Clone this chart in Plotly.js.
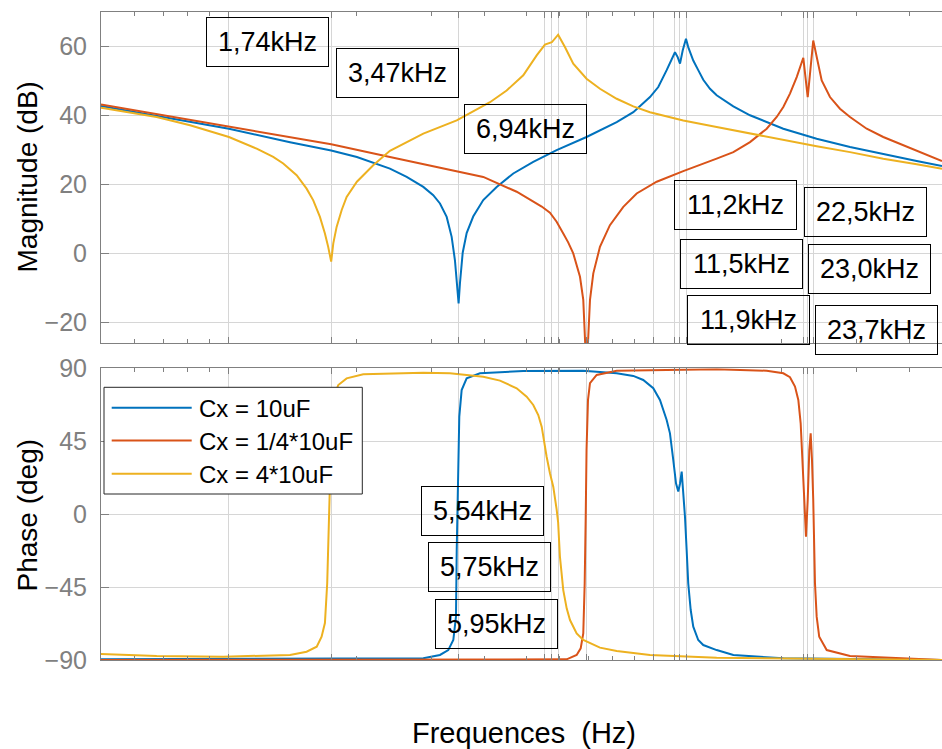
<!DOCTYPE html>
<html>
<head>
<meta charset="utf-8">
<script src="https://cdn.plot.ly/plotly-3.0.1.min.js"></script>
<style>
  html, body { margin: 0; padding: 0; background: #fff; }
  #chart { width: 942px; height: 749px; }
</style>
</head>
<body>
<div id="chart"></div>
<script>
// ---------------- DATA ----------------
const seriesNames = ['Cx = 10uF', 'Cx = 1/4*10uF', 'Cx = 4*10uF'];

// Magnitude (dB) vs frequency (Hz)
const blueMagF  = [500, 676, 1000, 1392, 1740, 2000, 2185, 2392, 2619, 2866, 3025, 3137, 3253, 3342, 3402, 3445, 3470, 3496, 3548, 3625, 3756, 3966, 4265, 4667, 5200, 5902, 6940, 8172, 8941, 9786, 10236, 10712, 11006, 11206, 11371, 11516, 11684, 11894, 12040, 12373, 12711, 13062, 13546, 14045, 15373, 16826, 20152, 24145, 28925, 34637, 41510, 47610];
const blueMagDb = [42.8, 39.9, 36.2, 32.3, 29.9, 28.0, 26.4, 24.6, 22.2, 19.3, 16.9, 14.5, 10.6, 4.8, -2.0, -9.8, -14.5, -8.6, 0.2, 5.9, 10.7, 15.5, 19.3, 23.2, 26.6, 30.0, 33.8, 38.1, 41.0, 45.4, 48.3, 53.2, 56.5, 58.4, 57.0, 55.1, 58.9, 62.3, 59.9, 56.0, 53.2, 50.4, 47.8, 45.9, 42.7, 40.1, 36.2, 33.3, 30.9, 28.8, 26.8, 25.4];

const redMagF  = [500, 1000, 1740, 2392, 2866, 3311, 3966, 4753, 5200, 5443, 5692, 5902, 6118, 6283, 6458, 6698, 6818, 6940, 7071, 7199, 7463, 7877, 8470, 9106, 10150, 11720, 14045, 15373, 16826, 18418, 19443, 20152, 20893, 21670, 22458, 23000, 23700, 24145, 24810, 25950, 27390, 28925, 31660, 34637, 41510, 47610];
const redMagDb = [43.2, 36.9, 31.7, 28.0, 26.0, 24.4, 22.2, 17.9, 15.0, 13.6, 11.8, 9.2, 5.8, 3.2, 0.0, -6.8, -13.5, -35, -13.5, -5.8, 1.9, 8.2, 13.5, 17.4, 20.8, 23.9, 27.5, 29.4, 32.3, 36.2, 39.6, 42.5, 46.4, 51.2, 56.8, 45.4, 61.8, 57.0, 50.2, 45.4, 42.0, 39.6, 36.2, 33.8, 29.9, 26.8];

const yellowMagF  = [500, 676, 810, 1000, 1162, 1271, 1342, 1443, 1523, 1579, 1637, 1682, 1712, 1740, 1760, 1792, 1842, 1892, 2000, 2185, 2392, 2866, 3435, 4113, 4502, 4926, 5297, 5540, 5750, 5950, 6173, 6458, 6940, 7463, 8172, 8941, 9786, 11720, 14045, 16826, 20152, 24145, 28925, 34637, 41510, 47610];
const yellowMagDb = [42.3, 39.6, 37.2, 33.8, 30.4, 28.0, 26.1, 22.7, 18.8, 15.4, 10.6, 5.8, 1.9, -2.4, 2.9, 7.7, 12.6, 16.4, 20.8, 25.6, 29.8, 34.8, 38.6, 43.9, 47.3, 51.7, 57.5, 60.6, 61.3, 63.5, 59.9, 55.1, 50.7, 47.8, 44.9, 42.7, 41.0, 38.6, 36.7, 34.8, 32.8, 31.1, 29.4, 27.5, 25.9, 24.6];

// Phase (deg) vs frequency (Hz)
const bluePhF   = [500, 2866, 3137, 3281, 3372, 3421, 3435, 3452, 3483, 3528, 3625, 3896, 4926, 6818, 8172, 8941, 9436, 9963, 10330, 10712, 10905, 11102, 11268, 11408, 11516, 11620, 11720, 11830, 11937, 12040, 12202, 12373, 12711, 13062, 14045, 15373, 20152, 47610];
const bluePhDeg = [-89.4, -88.8, -86.7, -83.7, -77.5, -63.1, -22, 19.1, 60.2, 76.6, 83.8, 86.9, 88.3, 88.5, 86.9, 85.3, 82.8, 77.7, 70.5, 58.1, 49.9, 33.5, 19.1, 14, 19, 26.3, 15, -1.5, -22, -42.5, -59, -69.3, -77.5, -80.6, -83.7, -86.7, -88.8, -89.8];

const redPhF   = [500, 6232, 6578, 6723, 6818, 6871, 6909, 6940, 6995, 7071, 7331, 8172, 14045, 18418, 20152, 20893, 21470, 21860, 22140, 22390, 22580, 22787, 23000, 23200, 23374, 23540, 23700, 23924, 24145, 24480, 25494, 28925, 47610];
const redPhDeg = [-89.8, -89.4, -86.7, -82.6, -73.4, -42.5, -1.5, 39.6, 70.5, 80.8, 85.9, 88.5, 89.4, 88.5, 86.9, 84.5, 78.7, 70.5, 56.1, 33.5, 8.8, -13.8, 8.8, 39.6, 49.9, 33.5, 8.8, -42.5, -63.1, -75.5, -83.7, -87.4, -89.8];

const yellowPhF   = [500, 676, 970, 1392, 1523, 1609, 1652, 1682, 1703, 1717, 1728, 1744, 1766, 1808, 1892, 2070, 2866, 3311, 3966, 4342, 4753, 5018, 5200, 5343, 5443, 5519, 5591, 5692, 5795, 5902, 5950, 6008, 6118, 6232, 6345, 6578, 6818, 7463, 8172, 9786, 14045, 47610];
const yellowPhDeg = [-86.1, -87.4, -87.8, -86.7, -84.7, -81.6, -75.5, -67, -42.5, -11.7, 19, 56.1, 72.5, 79.7, 83.8, 86.3, 87.3, 86.9, 84.8, 82.4, 77.7, 72.5, 67.4, 61.2, 54, 43.8, 35.5, 25.3, 17, 3, -5, -26, -46.7, -58, -65.2, -73.4, -77.5, -82.2, -84.3, -86.7, -88.4, -89.8];

// x grid / tick frequencies (Hz), minor log ticks
const freqTicks  = [1000, 1740, 3470, 5540, 5750, 5950, 6940, 10000, 11200, 11500, 11900, 22500, 23000, 23700];
const minorTicks = [600, 700, 800, 900, 2000, 3000, 4000, 5000, 6000, 7000, 8000, 9000, 20000, 30000, 40000];
const magTicks   = [-20, 0, 20, 40, 60];
const phaseTicks = [-90, -45, 0, 45, 90];

// data-tip labels
const magLabelFreqs   = [1740, 3470, 6940, 11200, 11500, 11900, 22500, 23000, 23700];
const magLabelTexts   = ['1,74kHz', '3,47kHz', '6,94kHz', '11,2kHz', '11,5kHz', '11,9kHz', '22,5kHz', '23,0kHz', '23,7kHz'];
const phaseLabelFreqs = [5540, 5750, 5950];
const phaseLabelTexts = ['5,54kHz', '5,75kHz', '5,95kHz'];

// ---------------- STYLE / LAYOUT ----------------
const W = 942, H = 749;
const px = x => x / W;
const py = y => (H - y) / H;
const colors = ['#0072BD', '#D95319', '#EDB120'];
const FONT = '"Liberation Sans", Arial, Helvetica, sans-serif';
const GRAY = '#808080';

function line(x, y, i, xa, ya) {
  return { x: x, y: y, xaxis: xa, yaxis: ya, type: 'scatter', mode: 'lines',
           name: seriesNames[i], showlegend: false, hoverinfo: 'skip',
           line: { color: colors[i], width: 2 } };
}

const traces = [
  line(blueMagF, blueMagDb, 0, 'x', 'y'),
  line(redMagF, redMagDb, 1, 'x', 'y'),
  line(yellowMagF, yellowMagDb, 2, 'x', 'y'),
  line(bluePhF, bluePhDeg, 0, 'x2', 'y2'),
  line(redPhF, redPhDeg, 1, 'x2', 'y2'),
  line(yellowPhF, yellowPhDeg, 2, 'x2', 'y2')
];

const xDomain = [px(101), 1];
const xRange = [Math.log10(500), Math.log10(47610)];

function xaxisDef(anchor) {
  return {
    type: 'log', domain: xDomain, range: xRange, anchor: anchor,
    tickmode: 'array', tickvals: freqTicks, showticklabels: false,
    ticks: 'inside', ticklen: 6, tickwidth: 1, tickcolor: GRAY,
    showgrid: true, gridcolor: '#d6d6d6', gridwidth: 1,
    showline: true, linecolor: GRAY, linewidth: 1, mirror: 'ticks',
    zeroline: false, automargin: false,
    minor: { tickmode: 'array', tickvals: minorTicks, ticks: 'inside', ticklen: 4,
             tickwidth: 1, tickcolor: GRAY, showgrid: false }
  };
}
function yaxisDef(domain, range, tickvals, anchor) {
  return {
    domain: domain, range: range, anchor: anchor,
    tickmode: 'array', tickvals: tickvals,
    ticks: 'inside', ticklen: 8, tickwidth: 1, tickcolor: GRAY,
    tickfont: { family: FONT, size: 25, color: GRAY },
    ticklabelstandoff: 8,
    showgrid: true, gridcolor: '#d6d6d6', gridwidth: 1,
    showline: true, linecolor: GRAY, linewidth: 1, mirror: false,
    zeroline: false, automargin: false
  };
}

const annotations = [];
function tipBox(f, text, xref, yc, anchor, shift) {
  annotations.push({
    xref: xref, yref: 'paper', x: Math.log10(f), y: py(yc),
    xanchor: anchor, yanchor: 'middle', xshift: shift, showarrow: false,
    text: text, font: { family: FONT, size: 27, color: '#000' },
    bordercolor: '#000', borderwidth: 1, borderpad: 0, width: 121, height: 48,
    bgcolor: 'rgba(0,0,0,0)'
  });
}
const magLabelY      = [42, 73.3, 129.3, 205.5, 264, 320, 212.2, 269.2, 330.4];
const magLabelAnchor = ['right', 'right', 'right', 'left', 'left', 'left', 'left', 'left', 'left'];
const magLabelShift  = [-2, 0, 0, -1, 0, 0.5, 0, 0, 2];
magLabelFreqs.forEach((f, i) => tipBox(f, magLabelTexts[i], 'x', magLabelY[i], magLabelAnchor[i], magLabelShift[i]));
const phaseLabelY = [511.3, 567.2, 624.2];
phaseLabelFreqs.forEach((f, i) => tipBox(f, phaseLabelTexts[i], 'x2', phaseLabelY[i], 'right', -0.5));

// axis titles
annotations.push({ xref: 'paper', yref: 'paper', x: px(524), y: py(733), xanchor: 'center', yanchor: 'middle',
  showarrow: false, text: 'Frequences \u00a0(Hz)', font: { family: FONT, size: 29, color: '#000' } });
annotations.push({ xref: 'paper', yref: 'paper', x: px(27), y: py(177.5), xanchor: 'center', yanchor: 'middle',
  showarrow: false, textangle: -90, text: 'Magnitude (dB)', font: { family: FONT, size: 28, color: '#000' } });
annotations.push({ xref: 'paper', yref: 'paper', x: px(27), y: py(515.5), xanchor: 'center', yanchor: 'middle',
  showarrow: false, textangle: -90, text: 'Phase (deg)', font: { family: FONT, size: 28, color: '#000' } });

// legend (drawn manually to match the long line samples)
const shapes = [{
  type: 'rect', xref: 'paper', yref: 'paper', x0: px(104), x1: px(362.3), y0: py(494), y1: py(387.3),
  fillcolor: '#fff', line: { color: '#262626', width: 1 }, layer: 'above'
}];
const legendRowY = [407.8, 440.5, 473.8];
seriesNames.forEach((name, i) => {
  shapes.push({ type: 'line', xref: 'paper', yref: 'paper', x0: px(111.7), x1: px(191.7),
    y0: py(legendRowY[i]), y1: py(legendRowY[i]), line: { color: colors[i], width: 2 }, layer: 'above' });
  annotations.push({ xref: 'paper', yref: 'paper', x: px(197), y: py(legendRowY[i] + 1), xanchor: 'left',
    yanchor: 'middle', showarrow: false, text: name, font: { family: FONT, size: 24, color: '#000' } });
});

const layout = {
  width: W, height: H,
  margin: { l: 0, r: 0, t: 0, b: 0 },
  paper_bgcolor: '#fff', plot_bgcolor: '#fff',
  showlegend: false,
  font: { family: FONT },
  xaxis: xaxisDef('y'),
  xaxis2: Object.assign(xaxisDef('y2'), { matches: 'x' }),
  yaxis: yaxisDef([py(343.3), py(12.3)], [-26.1, 70], magTicks, 'x'),
  yaxis2: yaxisDef([py(660.3), py(368.3)], [-90, 90], phaseTicks, 'x2'),
  annotations: annotations,
  shapes: shapes
};

Plotly.newPlot('chart', traces, layout, { staticPlot: true, displayModeBar: false });
</script>
</body>
</html>
